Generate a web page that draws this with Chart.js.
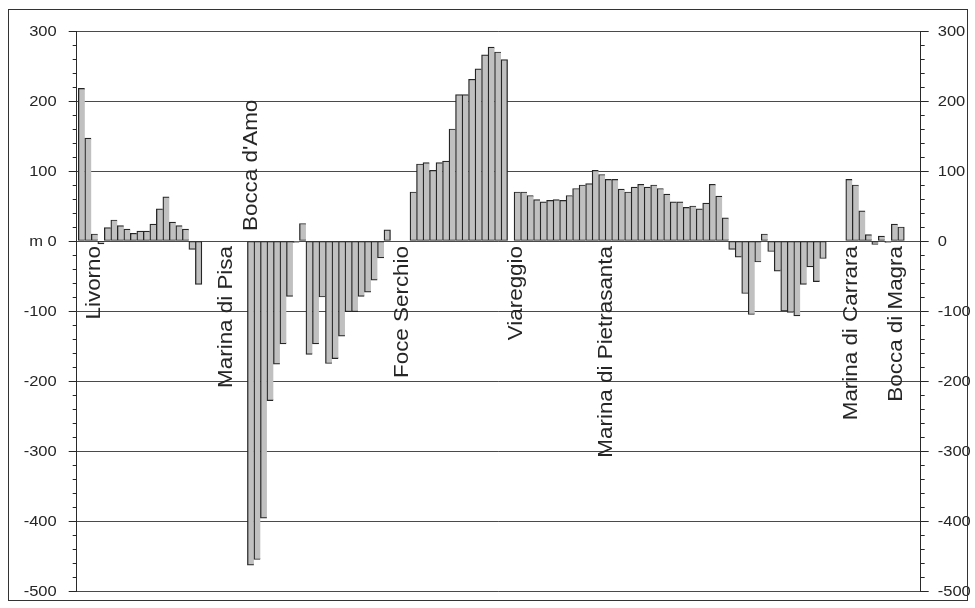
<!DOCTYPE html>
<html>
<head>
<meta charset="utf-8">
<script src="https://cdn.jsdelivr.net/npm/chart.js@4/dist/chart.umd.min.js"></script>
<style>
  html, body { margin: 0; padding: 0; background: #ffffff; }
  #wrap { position: relative; width: 975px; height: 608px; }
</style>
</head>
<body>
<div id="wrap"><canvas id="c" width="975" height="608"></canvas></div>
<script>
// Shoreline advance (+) / retreat (-) per coastal sector, metres; null = no sector drawn
const changeMetres = [
  218, 147, 10, -4, 19, 30, 22, 17, 11, 14, 14, 24, 46, 63, 27, 22, 17, -12, -62,
  null, null, null, null, null, null, null,
  -463, -455, -396, -228, -176, -147, -79, -2, 25, -162, -147, -80, -175, -168, -136, -101, -101, -79, -73, -56, -24, 16,
  null, null, null,
  70, 110, 112, 101, 112, 114, 160, 209, 209, 231, 246, 266, 277, 270, 259,
  null,
  70, 70, 65, 59, 56, 58, 59, 58, 65, 75, 80, 82, 101, 95, 88, 88, 74, 70, 77, 81,
  77, 80, 75, 67, 56, 56, 48, 50, 46, 54, 81, 64, 33,
  -12, -23, -75, -105, -30, 10, -15, -43, -100, -102, -107, -62, -37, -58, -25,
  null, null, null,
  88, 80, 43, 9, -5, 7, -2, 24, 20
];

// Coastal landmarks and the sector each name is written beside
const places = ['Livorno', 'Marina di Pisa', "Bocca d'Amo", 'Foce Serchio', 'Viareggio',
                'Marina di Pietrasanta', 'Marina di Carrara', 'Bocca di Magra'];
const placeSector = [2.9, 23.1, 27.0, 50.2, 67.7, 81.6, 119.2, 126.2];
const placeAbove = [false, false, true, false, false, false, false, false];

// Vertical axis
const tickValues = [300, 200, 100, 0, -100, -200, -300, -400, -500];
const leftTickLabels = ['300', '200', '100', 'm 0', '-100', '-200', '-300', '-400', '-500'];
const rightTickLabels = ['300', '200', '100', '0', '-100', '-200', '-300', '-400', '-500'];

const FONT = '"Liberation Sans", Arial, Helvetica, sans-serif';
const INK = '#262626';

const sectors = changeMetres.map((v, i) => ({ x: i, y: v }));

const frameAndText = {
  id: 'frameAndText',
  afterDraw(chart) {
    const ctx = chart.ctx;
    const area = chart.chartArea;
    const y = chart.scales.y;
    const x = chart.scales.x;
    ctx.save();

    // minor / major tick marks on both vertical axes
    ctx.strokeStyle = INK;
    ctx.lineWidth = 1;
    for (let v = -500; v <= 300; v += 20) {
      const py = Math.round(y.getPixelForValue(v)) + 0.5;
      const len = (v % 100 === 0) ? 8 : 4;
      ctx.beginPath();
      ctx.moveTo(area.left - len, py);
      ctx.lineTo(area.left, py);
      ctx.moveTo(area.right, py);
      ctx.lineTo(area.right + len, py);
      ctx.stroke();
    }

    // tick labels, slightly widened type
    ctx.fillStyle = INK;
    ctx.font = '14px ' + FONT;
    ctx.textBaseline = 'middle';
    tickValues.forEach((v, i) => {
      const py = y.getPixelForValue(v) + 1;
      ctx.save();
      ctx.translate(area.left - 20, py);
      ctx.scale(1.18, 1);
      ctx.textAlign = 'right';
      ctx.fillText(leftTickLabels[i], 0, 0);
      ctx.restore();
      ctx.save();
      ctx.translate(area.right + 17, py);
      ctx.scale(1.18, 1);
      ctx.textAlign = 'left';
      ctx.fillText(rightTickLabels[i], 0, 0);
      ctx.restore();
    });

    // landmark names, written upwards and drawn a little elongated
    ctx.font = '20px ' + FONT;
    ctx.textBaseline = 'alphabetic';
    const zero = y.getPixelForValue(0);
    places.forEach((name, i) => {
      const px = x.getPixelForValue(placeSector[i]);
      ctx.save();
      if (placeAbove[i]) {
        ctx.translate(px, zero - 10);
        ctx.rotate(-Math.PI / 2);
        ctx.scale(1.12, 1);
        ctx.textAlign = 'left';
      } else {
        ctx.translate(px, zero + 5);
        ctx.rotate(-Math.PI / 2);
        ctx.scale(1.12, 1);
        ctx.textAlign = 'right';
      }
      ctx.fillText(name, 0, 0);
      ctx.restore();
    });

    // outer frame
    ctx.strokeStyle = '#333333';
    ctx.strokeRect(8.5, 9.5, 959, 591);
    ctx.restore();
  }
};

new Chart(document.getElementById('c'), {
  type: 'bar',
  data: {
    datasets: [{
      data: sectors,
      backgroundColor: '#c0c0c0',
      borderColor: '#262626',
      borderSkipped: false,
      borderWidth: (c) => {
        const next = changeMetres[c.dataIndex + 1];
        return { top: 1.2, bottom: 1.2, left: 1.3, right: (next === null || next === undefined) ? 1.3 : 0 };
      },
      categoryPercentage: 1,
      barPercentage: 1
    }]
  },
  options: {
    responsive: false,
    animation: false,
    devicePixelRatio: 1,
    layout: { padding: { top: 31, bottom: 17, left: 0, right: 0 } },
    plugins: { legend: { display: false }, tooltip: { enabled: false } },
    scales: {
      x: {
        type: 'linear', min: -0.746, max: 129.02, bounds: 'data',
        display: false, offset: false
      },
      y: {
        position: 'left', min: -500, max: 300,
        ticks: { stepSize: 100, display: false },
        grid: { color: '#4a4a4a', lineWidth: 1, drawTicks: false },
        border: { display: true, color: '#2a2a2a', width: 1 },
        afterFit: (s) => { s.width = 76.7; }
      },
      yr: {
        position: 'right', min: -500, max: 300,
        ticks: { display: false },
        grid: { display: false, drawTicks: false },
        border: { display: true, color: '#2a2a2a', width: 1 },
        afterFit: (s) => { s.width = 54.3; }
      }
    }
  },
  plugins: [frameAndText]
});
</script>
</body>
</html>
